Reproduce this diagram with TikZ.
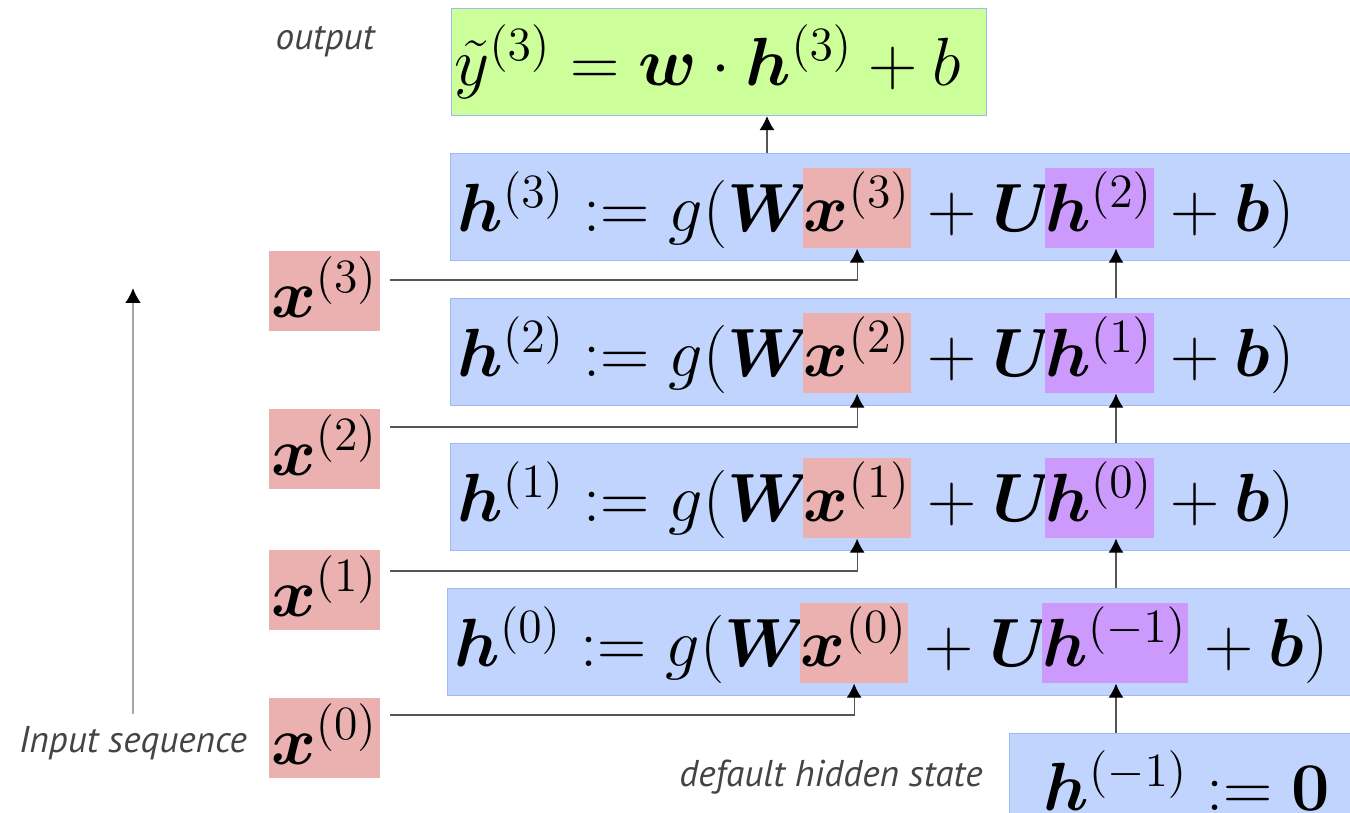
\RequirePackage{fix-cm}
\documentclass[tikz,border=0pt]{standalone}
\usepackage{amsmath}
\usepackage{amssymb}
\usepackage{bm}
\usepackage[no-math]{fontspec}
\setsansfont{PT Sans}
\usepackage{xcolor}
\usetikzlibrary{arrows.meta}
\newcommand{\eqsize}{\fontsize{19.4}{23}\selectfont}
\tikzstyle{rowbox} = [rectangle, draw=rowedge, fill=rowblue, line width=0.3pt, anchor=north west, minimum height=1.07cm]
\tikzstyle{outbox} = [rowbox, fill=outgreen]
\tikzstyle{eq} = [inner sep=0pt, anchor=base west, font=\eqsize]
\tikzstyle{hl} = [eq, inner xsep=0.01cm, text height=0.64cm, text depth=0.16cm]
\tikzstyle{xhl} = [hl, fill=inred]
\tikzstyle{hhl} = [hl, fill=hpurp]
\tikzstyle{inbox} = [rectangle, fill=inred, anchor=north west, minimum width=1.11cm, inner xsep=0.02cm, inner ysep=0.085cm, text height=0.58cm, text depth=0.05cm, font=\eqsize]
\tikzstyle{arrow} = [draw=feedgray, line width=0.3pt, -{Latex[black, length=0.14cm, width=0.15cm]}]
\tikzstyle{seqarrow} = [draw=gray!70, line width=0.6pt, -{Latex[black, length=0.15cm, width=0.16cm]}]
\tikzstyle{anno} = [text=lblgray, font=\sffamily\itshape\fontsize{10.6}{12}\selectfont]
\definecolor{rowblue}{HTML}{C0D4FD}
\definecolor{rowedge}{HTML}{9DB9F7}
\definecolor{inred}{HTML}{EBB1B1}
\definecolor{hpurp}{HTML}{CC99FD}
\definecolor{outgreen}{HTML}{CCFF99}
\definecolor{lblgray}{HTML}{444444}
\definecolor{feedgray}{HTML}{555555}

\begin{document}
\begin{tikzpicture}[x=0.01cm, y=-0.01cm]
    \useasboundingbox (0,0) rectangle (1350,813);
    % output
    \node[outbox, minimum width=5.35cm, text width=5.29cm, inner xsep=0.03cm, align=left, font=\eqsize] at (451,8) (out) {$\tilde{y}^{(3)} = \bm{w}\cdot\bm{h}^{(3)} + b$};
    \node[anno] at (325,42) (outlabel) {output};

    % hidden states, top to bottom
    \node[rowbox, minimum width=9.02cm] at (450,153) (row3) {};
    \node[eq] at (457,232) (lhs3) {$\bm{h}^{(3)} := g(\bm{W}\!$};
    \node[xhl] at (lhs3.base east) (xh3) {$\bm{x}^{(3)}$};
    \node[eq] at (xh3.base east) (mid3) {${}+\bm{U}\!$};
    \node[hhl] at (mid3.base east) (hh3) {$\bm{h}^{(2)}$};
    \node[eq] at (hh3.base east) (rhs3) {${}+\bm{b})$};

    \node[rowbox, minimum width=9.02cm] at (450,298) (row2) {};
    \node[eq] at (457,377) (lhs2) {$\bm{h}^{(2)} := g(\bm{W}\!$};
    \node[xhl] at (lhs2.base east) (xh2) {$\bm{x}^{(2)}$};
    \node[eq] at (xh2.base east) (mid2) {${}+\bm{U}\!$};
    \node[hhl] at (mid2.base east) (hh2) {$\bm{h}^{(1)}$};
    \node[eq] at (hh2.base east) (rhs2) {${}+\bm{b})$};

    \node[rowbox, minimum width=9.02cm] at (450,443) (row1) {};
    \node[eq] at (457,522) (lhs1) {$\bm{h}^{(1)} := g(\bm{W}\!$};
    \node[xhl] at (lhs1.base east) (xh1) {$\bm{x}^{(1)}$};
    \node[eq] at (xh1.base east) (mid1) {${}+\bm{U}\!$};
    \node[hhl] at (mid1.base east) (hh1) {$\bm{h}^{(0)}$};
    \node[eq] at (hh1.base east) (rhs1) {${}+\bm{b})$};

    \node[rowbox, minimum width=9.05cm] at (447,588) (row0) {};
    \node[eq] at (454,667) (lhs0) {$\bm{h}^{(0)} := g(\bm{W}\!$};
    \node[xhl] at (lhs0.base east) (xh0) {$\bm{x}^{(0)}$};
    \node[eq] at (xh0.base east) (mid0) {${}+\bm{U}\!$};
    \node[hhl] at (mid0.base east) (hh0) {$\bm{h}^{(-1)}$};
    \node[eq] at (hh0.base east) (rhs0) {${}+\bm{b})$};

    % initial state
    \node[rowbox, minimum width=3.42cm, minimum height=1.0cm] at (1009,733) (hinit) {};
    \node[eq] at (1043,811) (hinitq) {$\bm{h}^{(-1)} := \mathbf{0}$};
    \node[anno] at (831,777) (initlabel) {default hidden state};

    % inputs
    \node[inbox] at (268,250) (xin3) {$\bm{x}^{(3)}$};
    \node[inbox] at (268,408) (xin2) {$\bm{x}^{(2)}$};
    \node[inbox] at (268,549) (xin1) {$\bm{x}^{(1)}$};
    \node[inbox] at (268,697) (xin0) {$\bm{x}^{(0)}$};
    \node[anno] at (133,743) (seqlabel) {Input sequence};
    \coordinate (seqtop) at (133,288);
    \path[seqarrow] (seqlabel.north) -- (seqtop);

    % input feeds
    \coordinate (xfeed3) at (390,280);
    \coordinate (xfeed2) at (390,427);
    \coordinate (xfeed1) at (390,571);
    \coordinate (xfeed0) at (390,715);
    \path[arrow] (xfeed3) -| (xh3.south);
    \path[arrow] (xfeed2) -| (xh2.south);
    \path[arrow] (xfeed1) -| (xh1.south);
    \path[arrow] (xfeed0) -| (xh0.south);

    % recurrence
    \coordinate (hcol) at (1116,0);
    \path[arrow] (hinit.north -| hcol) -- (hh0.south -| hcol);
    \path[arrow] (row0.north -| hcol) -- (hh1.south -| hcol);
    \path[arrow] (row1.north -| hcol) -- (hh2.south -| hcol);
    \path[arrow] (row2.north -| hcol) -- (hh3.south -| hcol);
    \coordinate (ocol) at (767,0);
    \path[arrow] (row3.north -| ocol) -- (out.south -| ocol);
\end{tikzpicture}
\end{document}
